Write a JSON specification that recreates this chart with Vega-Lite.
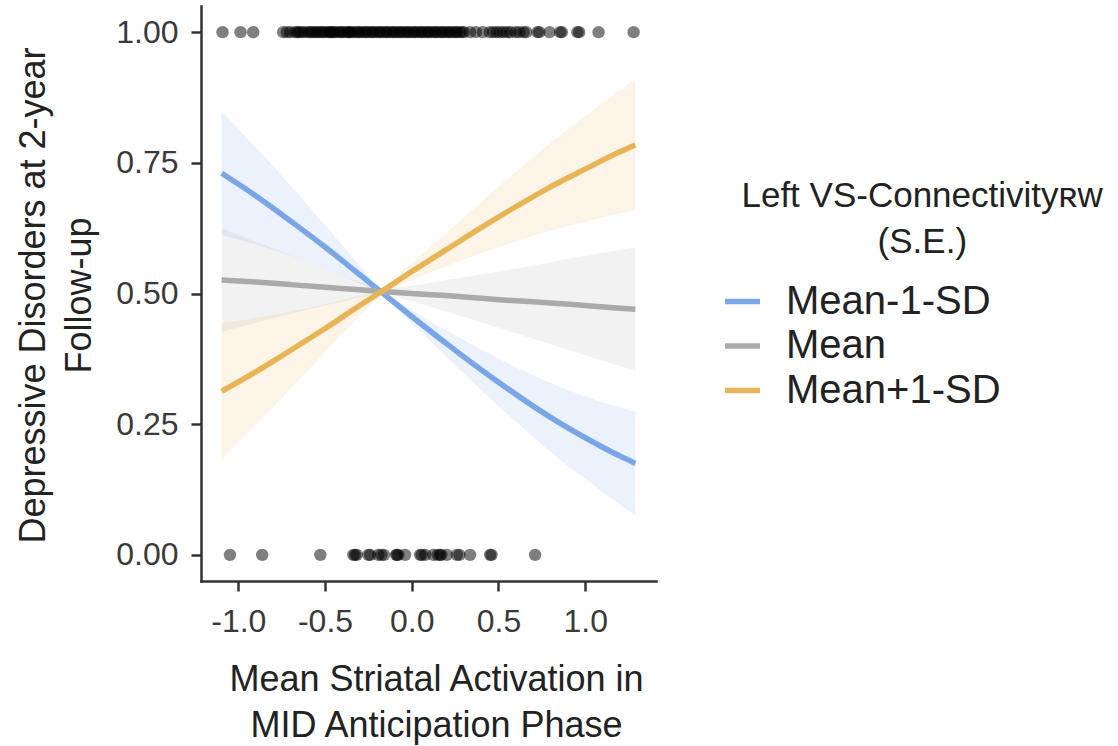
{
  "$schema": "https://vega.github.io/schema/vega-lite/v6.json",
  "width": 455,
  "height": 575,
  "autosize": {"type": "none"},
  "padding": {"left": 201, "top": 6, "right": 462, "bottom": 165},
  "background": "white",
  "config": {
    "view": {"stroke": null},
    "font": "Liberation Sans",
    "axis": {
      "grid": false,
      "domainColor": "#333333",
      "domainWidth": 2.5,
      "domainCap": "square",
      "tickColor": "#333333",
      "tickWidth": 2.5,
      "tickSize": 10,
      "labelFont": "Liberation Sans",
      "labelFontSize": 32,
      "labelColor": "#3a3a3a",
      "titleFont": "Liberation Sans",
      "titleFontSize": 36,
      "titleFontWeight": "normal",
      "titleColor": "#222222",
      "titleLineHeight": 46
    },
    "legend": {
      "titleFont": "Liberation Sans",
      "titleFontSize": 35,
      "titleFontWeight": "normal",
      "titleColor": "#222222",
      "titleLineHeight": 46,
      "titleAlign": "left",
      "titleAnchor": "start",
      "titlePadding": 21,
      "titleLimit": 600,
      "labelFont": "Liberation Sans",
      "labelFontSize": 40,
      "labelColor": "#222222",
      "labelOffset": 23,
      "labelLimit": 400,
      "symbolType": "stroke",
      "symbolSize": 1225,
      "symbolStrokeWidth": 5.5,
      "rowPadding": 3.5,
      "padding": 0
    }
  },
  "datasets": {
    "curves": [
      {"activation": -1.096, "group": "Mean-1-SD", "prob": 0.730, "lower": 0.612, "upper": 0.848},
      {"activation": -0.9, "group": "Mean-1-SD", "prob": 0.687, "lower": 0.594, "upper": 0.780},
      {"activation": -0.7, "group": "Mean-1-SD", "prob": 0.639, "lower": 0.572, "upper": 0.707},
      {"activation": -0.5, "group": "Mean-1-SD", "prob": 0.589, "lower": 0.547, "upper": 0.631},
      {"activation": -0.3, "group": "Mean-1-SD", "prob": 0.536, "lower": 0.519, "upper": 0.553},
      {"activation": -0.173, "group": "Mean-1-SD", "prob": 0.502, "lower": 0.496, "upper": 0.508},
      {"activation": 0.0, "group": "Mean-1-SD", "prob": 0.456, "lower": 0.443, "upper": 0.469},
      {"activation": 0.2, "group": "Mean-1-SD", "prob": 0.404, "lower": 0.379, "upper": 0.429},
      {"activation": 0.4, "group": "Mean-1-SD", "prob": 0.354, "lower": 0.315, "upper": 0.393},
      {"activation": 0.6, "group": "Mean-1-SD", "prob": 0.307, "lower": 0.255, "upper": 0.359},
      {"activation": 0.8, "group": "Mean-1-SD", "prob": 0.263, "lower": 0.197, "upper": 0.329},
      {"activation": 1.0, "group": "Mean-1-SD", "prob": 0.224, "lower": 0.145, "upper": 0.303},
      {"activation": 1.2, "group": "Mean-1-SD", "prob": 0.189, "lower": 0.096, "upper": 0.282},
      {"activation": 1.289, "group": "Mean-1-SD", "prob": 0.175, "lower": 0.076, "upper": 0.274},
      {"activation": -1.096, "group": "Mean", "prob": 0.526, "lower": 0.427, "upper": 0.625},
      {"activation": -0.9, "group": "Mean", "prob": 0.522, "lower": 0.444, "upper": 0.599},
      {"activation": -0.7, "group": "Mean", "prob": 0.517, "lower": 0.461, "upper": 0.573},
      {"activation": -0.5, "group": "Mean", "prob": 0.512, "lower": 0.477, "upper": 0.547},
      {"activation": -0.3, "group": "Mean", "prob": 0.507, "lower": 0.492, "upper": 0.522},
      {"activation": -0.173, "group": "Mean", "prob": 0.504, "lower": 0.498, "upper": 0.510},
      {"activation": 0.0, "group": "Mean", "prob": 0.500, "lower": 0.485, "upper": 0.515},
      {"activation": 0.2, "group": "Mean", "prob": 0.496, "lower": 0.465, "upper": 0.526},
      {"activation": 0.4, "group": "Mean", "prob": 0.491, "lower": 0.445, "upper": 0.537},
      {"activation": 0.6, "group": "Mean", "prob": 0.486, "lower": 0.424, "upper": 0.548},
      {"activation": 0.8, "group": "Mean", "prob": 0.482, "lower": 0.403, "upper": 0.560},
      {"activation": 1.0, "group": "Mean", "prob": 0.477, "lower": 0.382, "upper": 0.572},
      {"activation": 1.2, "group": "Mean", "prob": 0.472, "lower": 0.361, "upper": 0.583},
      {"activation": 1.289, "group": "Mean", "prob": 0.470, "lower": 0.352, "upper": 0.588},
      {"activation": -1.096, "group": "Mean+1-SD", "prob": 0.313, "lower": 0.183, "upper": 0.443},
      {"activation": -0.9, "group": "Mean+1-SD", "prob": 0.350, "lower": 0.248, "upper": 0.453},
      {"activation": -0.7, "group": "Mean+1-SD", "prob": 0.391, "lower": 0.317, "upper": 0.465},
      {"activation": -0.5, "group": "Mean+1-SD", "prob": 0.433, "lower": 0.387, "upper": 0.479},
      {"activation": -0.3, "group": "Mean+1-SD", "prob": 0.477, "lower": 0.458, "upper": 0.496},
      {"activation": -0.173, "group": "Mean+1-SD", "prob": 0.504, "lower": 0.498, "upper": 0.510},
      {"activation": 0.0, "group": "Mean+1-SD", "prob": 0.542, "lower": 0.526, "upper": 0.558},
      {"activation": 0.2, "group": "Mean+1-SD", "prob": 0.584, "lower": 0.552, "upper": 0.616},
      {"activation": 0.4, "group": "Mean+1-SD", "prob": 0.626, "lower": 0.577, "upper": 0.675},
      {"activation": 0.6, "group": "Mean+1-SD", "prob": 0.666, "lower": 0.600, "upper": 0.733},
      {"activation": 0.8, "group": "Mean+1-SD", "prob": 0.704, "lower": 0.620, "upper": 0.788},
      {"activation": 1.0, "group": "Mean+1-SD", "prob": 0.738, "lower": 0.637, "upper": 0.839},
      {"activation": 1.2, "group": "Mean+1-SD", "prob": 0.771, "lower": 0.653, "upper": 0.889},
      {"activation": 1.289, "group": "Mean+1-SD", "prob": 0.784, "lower": 0.658, "upper": 0.910}
    ],
    "obs": [
      {"activation": -1.091, "depressed": 1}, {"activation": -0.987, "depressed": 1}, {"activation": -0.914, "depressed": 1},
      {"activation": -0.741, "depressed": 1}, {"activation": -0.72, "depressed": 1}, {"activation": -0.70, "depressed": 1},
      {"activation": -0.673, "depressed": 1}, {"activation": -0.66, "depressed": 1}, {"activation": -0.65, "depressed": 1},
      {"activation": -0.635, "depressed": 1}, {"activation": -0.62, "depressed": 1}, {"activation": -0.60, "depressed": 1},
      {"activation": -0.587, "depressed": 1}, {"activation": -0.575, "depressed": 1}, {"activation": -0.56, "depressed": 1},
      {"activation": -0.548, "depressed": 1}, {"activation": -0.535, "depressed": 1}, {"activation": -0.52, "depressed": 1},
      {"activation": -0.51, "depressed": 1}, {"activation": -0.495, "depressed": 1}, {"activation": -0.48, "depressed": 1},
      {"activation": -0.47, "depressed": 1}, {"activation": -0.462, "depressed": 1}, {"activation": -0.45, "depressed": 1},
      {"activation": -0.44, "depressed": 1}, {"activation": -0.423, "depressed": 1}, {"activation": -0.41, "depressed": 1},
      {"activation": -0.40, "depressed": 1}, {"activation": -0.385, "depressed": 1}, {"activation": -0.37, "depressed": 1},
      {"activation": -0.36, "depressed": 1}, {"activation": -0.355, "depressed": 1}, {"activation": -0.34, "depressed": 1},
      {"activation": -0.325, "depressed": 1}, {"activation": -0.31, "depressed": 1}, {"activation": -0.30, "depressed": 1},
      {"activation": -0.285, "depressed": 1}, {"activation": -0.27, "depressed": 1}, {"activation": -0.26, "depressed": 1},
      {"activation": -0.245, "depressed": 1}, {"activation": -0.23, "depressed": 1}, {"activation": -0.22, "depressed": 1},
      {"activation": -0.205, "depressed": 1}, {"activation": -0.19, "depressed": 1}, {"activation": -0.18, "depressed": 1},
      {"activation": -0.165, "depressed": 1}, {"activation": -0.15, "depressed": 1}, {"activation": -0.14, "depressed": 1},
      {"activation": -0.125, "depressed": 1}, {"activation": -0.11, "depressed": 1}, {"activation": -0.10, "depressed": 1},
      {"activation": -0.085, "depressed": 1}, {"activation": -0.07, "depressed": 1}, {"activation": -0.06, "depressed": 1},
      {"activation": -0.045, "depressed": 1}, {"activation": -0.03, "depressed": 1}, {"activation": -0.02, "depressed": 1},
      {"activation": -0.005, "depressed": 1}, {"activation": 0.01, "depressed": 1}, {"activation": 0.02, "depressed": 1},
      {"activation": 0.035, "depressed": 1}, {"activation": 0.05, "depressed": 1}, {"activation": 0.06, "depressed": 1},
      {"activation": 0.075, "depressed": 1}, {"activation": 0.09, "depressed": 1}, {"activation": 0.10, "depressed": 1},
      {"activation": 0.115, "depressed": 1}, {"activation": 0.13, "depressed": 1}, {"activation": 0.14, "depressed": 1},
      {"activation": 0.155, "depressed": 1}, {"activation": 0.17, "depressed": 1}, {"activation": 0.18, "depressed": 1},
      {"activation": 0.195, "depressed": 1}, {"activation": 0.21, "depressed": 1}, {"activation": 0.22, "depressed": 1},
      {"activation": 0.235, "depressed": 1}, {"activation": 0.25, "depressed": 1}, {"activation": 0.26, "depressed": 1},
      {"activation": 0.275, "depressed": 1}, {"activation": 0.29, "depressed": 1}, {"activation": 0.30, "depressed": 1},
      {"activation": 0.335, "depressed": 1}, {"activation": 0.37, "depressed": 1}, {"activation": 0.41, "depressed": 1},
      {"activation": 0.45, "depressed": 1}, {"activation": 0.47, "depressed": 1}, {"activation": 0.49, "depressed": 1},
      {"activation": 0.51, "depressed": 1}, {"activation": 0.53, "depressed": 1}, {"activation": 0.55, "depressed": 1},
      {"activation": 0.57, "depressed": 1}, {"activation": 0.60, "depressed": 1}, {"activation": 0.62, "depressed": 1},
      {"activation": 0.645, "depressed": 1}, {"activation": 0.66, "depressed": 1}, {"activation": 0.725, "depressed": 1},
      {"activation": 0.735, "depressed": 1}, {"activation": 0.794, "depressed": 1}, {"activation": 0.855, "depressed": 1},
      {"activation": 0.865, "depressed": 1}, {"activation": 0.955, "depressed": 1}, {"activation": 0.965, "depressed": 1},
      {"activation": 1.077, "depressed": 1}, {"activation": 1.279, "depressed": 1},
      {"activation": -1.048, "depressed": 0}, {"activation": -0.862, "depressed": 0}, {"activation": -0.527, "depressed": 0},
      {"activation": -0.337, "depressed": 0}, {"activation": -0.327, "depressed": 0}, {"activation": -0.317, "depressed": 0},
      {"activation": -0.25, "depressed": 0}, {"activation": -0.24, "depressed": 0}, {"activation": -0.193, "depressed": 0},
      {"activation": -0.175, "depressed": 0}, {"activation": -0.16, "depressed": 0}, {"activation": -0.09, "depressed": 0},
      {"activation": -0.085, "depressed": 0}, {"activation": -0.077, "depressed": 0}, {"activation": -0.039, "depressed": 0},
      {"activation": 0.048, "depressed": 0}, {"activation": 0.058, "depressed": 0}, {"activation": 0.077, "depressed": 0},
      {"activation": 0.125, "depressed": 0}, {"activation": 0.15, "depressed": 0}, {"activation": 0.163, "depressed": 0},
      {"activation": 0.17, "depressed": 0}, {"activation": 0.202, "depressed": 0}, {"activation": 0.26, "depressed": 0},
      {"activation": 0.275, "depressed": 0}, {"activation": 0.336, "depressed": 0}, {"activation": 0.452, "depressed": 0},
      {"activation": 0.46, "depressed": 0}, {"activation": 0.711, "depressed": 0}
    ]
  },
  "encoding": {
    "x": {
      "field": "activation",
      "type": "quantitative",
      "title": ["Mean Striatal Activation in", "MID Anticipation Phase"],
      "scale": {"domain": [-1.215, 1.408], "nice": false, "zero": false},
      "axis": {
        "values": [-1, -0.5, 0, 0.5, 1],
        "labelExpr": "datum.value < 0 ? '-' + format(-datum.value, '.1f') : format(datum.value, '.1f')",
        "labelPadding": 15,
        "titleX": 235,
        "titleY": 81,
        "titleAlign": "center",
        "titleBaseline": "top"
      }
    }
  },
  "layer": [
    {
      "data": {"name": "curves"},
      "mark": {"type": "area", "fillOpacity": 0.15, "interpolate": "monotone"},
      "encoding": {
        "y": {
          "field": "lower",
          "type": "quantitative",
          "title": ["Depressive Disorders at 2-year", "Follow-up"],
          "scale": {"domain": [-0.05, 1.05], "nice": false, "zero": false},
          "axis": {
            "values": [0, 0.25, 0.5, 0.75, 1],
            "format": ".2f",
            "labelPadding": 13,
            "titleX": -149,
            "titleY": 289,
            "titleAngle": 270,
            "titleAlign": "center",
            "titleBaseline": "bottom"
          }
        },
        "y2": {"field": "upper"},
        "fill": {
          "field": "group",
          "type": "nominal",
          "scale": {"domain": ["Mean", "Mean-1-SD", "Mean+1-SD"], "range": ["#aaaaaa", "#7aa6e8", "#e8b556"]},
          "legend": null
        }
      }
    },
    {
      "data": {"name": "curves"},
      "mark": {"type": "line", "strokeWidth": 5.5, "interpolate": "monotone"},
      "encoding": {
        "y": {"field": "prob", "type": "quantitative", "title": ["Depressive Disorders at 2-year", "Follow-up"]},
        "color": {
          "field": "group",
          "type": "nominal",
          "scale": {"domain": ["Mean-1-SD", "Mean", "Mean+1-SD"], "range": ["#7aa6e8", "#aaaaaa", "#e8b556"]},
          "legend": {
            "orient": "none",
            "legendX": 521,
            "legendY": 173,
            "title": ["\u200b\u00a0\u00a0Left VS-Connectivity\u0280\u1d21", "\u200b\u00a0\u00a0\u00a0\u00a0\u00a0\u00a0\u00a0\u00a0\u00a0\u00a0\u00a0\u00a0\u00a0\u00a0\u00a0\u00a0(S.E.)"]
          }
        }
      }
    },
    {
      "data": {"name": "obs"},
      "mark": {"type": "circle", "color": "black", "opacity": 0.5, "size": 155, "strokeWidth": 0},
      "encoding": {
        "y": {"field": "depressed", "type": "quantitative", "title": ["Depressive Disorders at 2-year", "Follow-up"]}
      }
    }
  ]
}
